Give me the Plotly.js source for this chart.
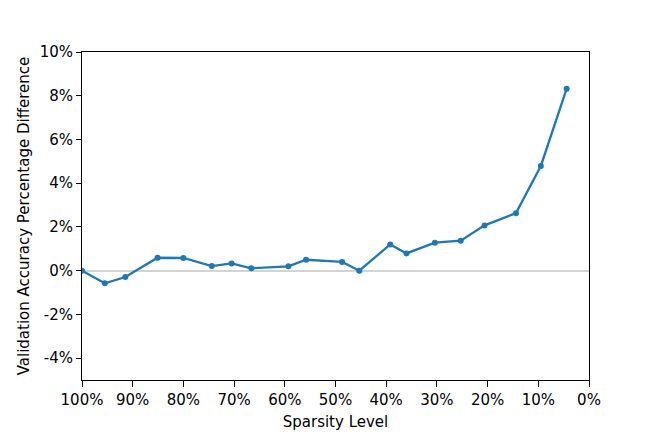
<!DOCTYPE html>
<html>
<head>
<meta charset="utf-8">
<script src="https://cdn.plot.ly/plotly-3.0.1.min.js"></script>
<style>
  html, body { margin: 0; padding: 0; background: #fff; }
  #chart { width: 654px; height: 436px; }
</style>
</head>
<body>
<div id="chart"></div>
<script>
// sparsity level (% of weights remaining) and accuracy difference (%)
const sparsity = [100, 95.5, 91.45, 85.1, 80.0, 74.4, 70.5, 66.6, 59.3, 55.8,
                  48.7, 45.3, 39.2, 36.0, 30.4, 25.3, 20.6, 14.4, 9.5, 4.4];
const accDiff = [0, -0.58, -0.29, 0.59, 0.58, 0.21, 0.33, 0.11, 0.2, 0.5,
                 0.4, 0.0, 1.2, 0.79, 1.28, 1.37, 2.07, 2.63, 4.79, 8.32];

const xTicks = [100, 90, 80, 70, 60, 50, 40, 30, 20, 10, 0];
const yTicks = [-4, -2, 0, 2, 4, 6, 8, 10];

const trace = {
  x: sparsity,
  y: accDiff,
  type: 'scatter',
  mode: 'lines+markers',
  line: { color: '#1f77b4', width: 2.3 },
  marker: { color: '#1f77b4', size: 6 },
  showlegend: false
};

const axisFont = { family: 'DejaVu Sans, sans-serif', size: 15, color: '#000' };

const layout = {
  width: 654,
  height: 436,
  margin: { l: 82, r: 65, t: 52, b: 56 },
  paper_bgcolor: '#fff',
  plot_bgcolor: '#fff',
  font: axisFont,
  xaxis: {
    range: [100, 0],
    tickvals: xTicks,
    ticktext: xTicks.map(v => v + '%'),
    ticks: 'outside',
    ticklen: 6,
    tickcolor: '#000',
    showline: true,
    mirror: true,
    linecolor: '#000',
    linewidth: 1,
    showgrid: false,
    zeroline: false,
    tickfont: axisFont,
    title: { text: 'Sparsity Level', font: axisFont, standoff: 8 }
  },
  yaxis: {
    range: [-5, 10],
    tickvals: yTicks,
    ticktext: yTicks.map(v => v + '%'),
    ticks: 'outside',
    ticklen: 5,
    tickcolor: '#000',
    showline: true,
    mirror: true,
    linecolor: '#000',
    linewidth: 1,
    showgrid: false,
    zeroline: true,
    zerolinecolor: '#d3d3d3',
    zerolinewidth: 2,
    tickfont: axisFont,
    title: { text: 'Validation Accuracy Percentage Difference', font: axisFont, standoff: 6 }
  }
};

Plotly.newPlot('chart', [trace], layout, { displayModeBar: false, staticPlot: true });
</script>
</body>
</html>
